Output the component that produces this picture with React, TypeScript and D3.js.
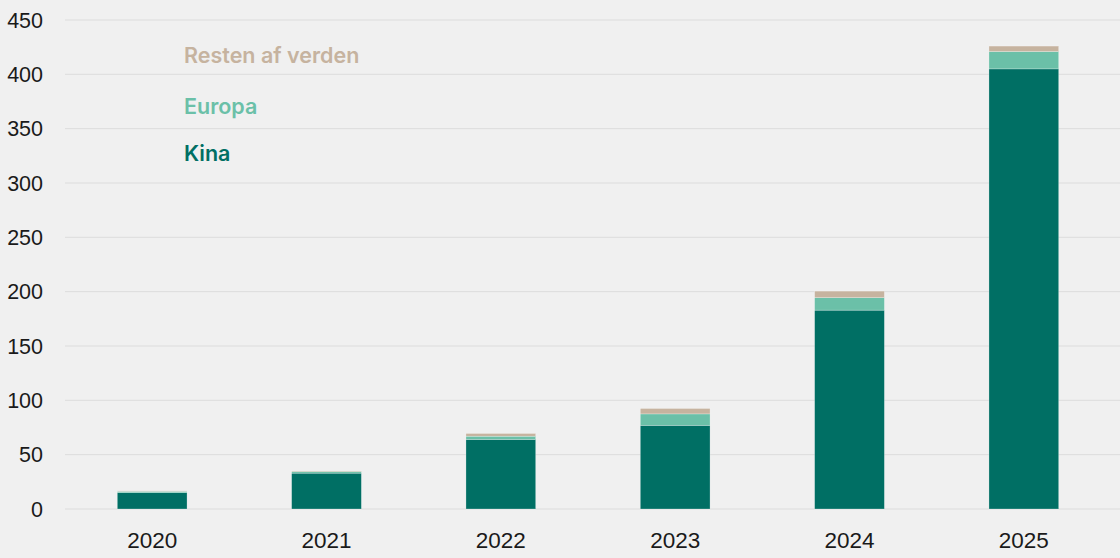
import React, { useEffect, useRef } from 'react';
import * as d3 from 'd3';

const W = 1120;
const H = 558;

const years = ['2020', '2021', '2022', '2023', '2024', '2025'];
const kina = [15, 33, 64, 77, 183, 405];
const europa = [1.3, 1.5, 3, 10.5, 11.5, 16];
const resten = [0.4, 0.5, 2.5, 5, 6, 5];
const yTicks = [0, 50, 100, 150, 200, 250, 300, 350, 400, 450];

const seriesKeys = ['Kina', 'Europa', 'Resten af verden'];
const seriesColors = ['#006f64', '#6bc0a8', '#c6b39f'];

export default function App() {
  const svgRef = useRef<SVGSVGElement | null>(null);

  useEffect(() => {
    if (!svgRef.current) return;
    const svg = d3.select(svgRef.current);
    svg.selectAll('*').remove();

    const rows = years.map((y, i) => ({
      year: y,
      Kina: kina[i],
      Europa: europa[i],
      'Resten af verden': resten[i],
    }));

    const x = d3.scaleBand().domain(years).range([65, 1111]).paddingInner(0.6).paddingOuter(0.3);
    const y = d3.scaleLinear().domain([0, 450]).range([509, 20]);

    svg.append('rect').attr('width', W).attr('height', H).attr('fill', '#f0f0f0');

    // Gridlines
    svg
      .append('g')
      .selectAll('line')
      .data(yTicks)
      .join('line')
      .attr('x1', 65)
      .attr('x2', W)
      .attr('y1', (d) => y(d))
      .attr('y2', (d) => y(d))
      .attr('stroke', '#dcdcdc')
      .attr('stroke-width', 1);

    // Y labels
    svg
      .append('g')
      .selectAll('text')
      .data(yTicks)
      .join('text')
      .attr('x', 43)
      .attr('y', (d) => y(d))
      .attr('dy', '0.35em')
      .attr('text-anchor', 'end')
      .attr('font-family', 'Liberation Sans, Arial, sans-serif')
      .attr('font-size', 21.5)
      .attr('fill', '#1a1a1a')
      .text((d) => d);

    // Stacked bars
    const stack = d3.stack<any>().keys(seriesKeys)(rows);
    svg
      .append('g')
      .selectAll('g')
      .data(stack)
      .join('g')
      .attr('fill', (_, i) => seriesColors[i])
      .selectAll('rect')
      .data((d) => d)
      .join('rect')
      .attr('x', (d: any) => x(d.data.year)!)
      .attr('width', x.bandwidth())
      .attr('y', (d) => y(d[1]))
      .attr('height', (d) => y(d[0]) - y(d[1]))
      .attr('stroke', '#ffffff')
      .attr('stroke-opacity', 0.5)
      .attr('stroke-width', 0.5);

    // X labels
    svg
      .append('g')
      .selectAll('text')
      .data(years)
      .join('text')
      .attr('x', (d) => x(d)! + x.bandwidth() / 2)
      .attr('y', 548)
      .attr('text-anchor', 'middle')
      .attr('font-family', 'Liberation Sans, Arial, sans-serif')
      .attr('font-size', 22.5)
      .attr('fill', '#1a1a1a')
      .text((d) => d);

    // Legend
    const legend = [
      { label: 'Resten af verden', color: seriesColors[2], y: 63 },
      { label: 'Europa', color: seriesColors[1], y: 114 },
      { label: 'Kina', color: seriesColors[0], y: 161 },
    ];
    svg
      .append('g')
      .selectAll('text')
      .data(legend)
      .join('text')
      .attr('x', 184)
      .attr('y', (d) => d.y)
      .attr('font-family', 'Inter, sans-serif')
      .attr('font-weight', 600)
      .attr('font-size', 21.5)
      .attr('fill', (d) => d.color)
      .text((d) => d.label);
  }, []);

  return (
    <svg
      ref={svgRef}
      width={W}
      height={H}
      style={{ position: 'absolute', left: 0, top: 0, display: 'block' }}
    />
  );
}
